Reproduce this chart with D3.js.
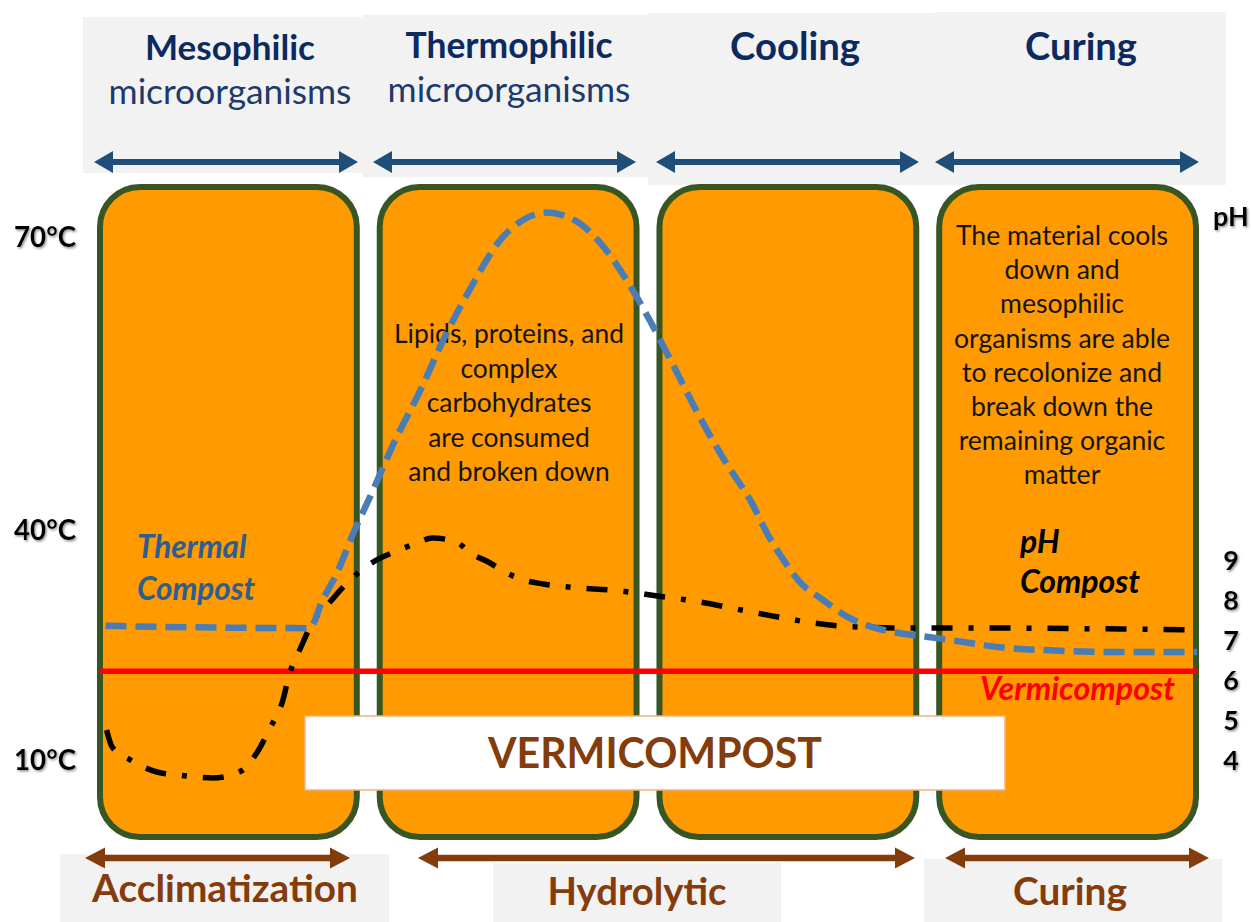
<!DOCTYPE html>
<html><head><meta charset="utf-8">
<script src="https://cdn.jsdelivr.net/npm/d3@7"></script>
<style>body{margin:0;background:#fff}svg{display:block}</style>
</head><body>
<svg id="chart" width="1252" height="922"></svg>
<script>
// ---------------- data ----------------
const phases = ["Mesophilic", "Thermophilic", "Cooling", "Curing"];
const phaseSubtitles = ["microorganisms", "microorganisms", "", ""];
const stages = ["Acclimatization", "Hydrolytic", "Curing"];
const tempTicks = [10, 40, 70];
const tempTickLabels = ["10°C", "40°C", "70°C"];
const phTicks = [4, 5, 6, 7, 8, 9];
const phTickLabels = ["4", "5", "6", "7", "8", "9"];

// process time (0-100 % of the composting process)
const thermalTime = [0.5, 9.1, 19.1, 20.3, 21.6, 23.1, 24.9, 26.7, 29.2, 31.4, 33.7, 36.5, 38.5, 40.7, 43.3, 45.6, 48.0, 50.1, 52.6, 54.7, 57.0, 59.4, 60.8, 62.3, 63.8, 65.9, 68.1, 70.5, 72.7, 75.7, 78.7, 82.0, 86.6, 91.2, 100];
const thermalTemp = [27.5, 27.3, 27.2, 30.9, 34.4, 39.6, 44.1, 48.7, 54.3, 59.7, 64.6, 69.7, 71.7, 72.5, 71.7, 69.4, 65.6, 61.5, 56.1, 51.5, 47.0, 42.8, 39.6, 36.1, 33.2, 30.9, 28.7, 27.3, 26.6, 26.0, 25.4, 24.7, 24.3, 24.1, 24.1];

const phCompostTime = [0.6, 1.1, 2.6, 5.2, 7.9, 10.3, 12.9, 14.3, 15.5, 16.6, 17.3, 18.2, 19.4, 20.9, 22.8, 24.9, 27.3, 28.9, 30.3, 32.5, 33.7, 35.4, 36.9, 38.6, 40.4, 43.8, 47.3, 50.8, 54.7, 57.9, 61.3, 65.0, 68.6, 73.8, 79.3, 91.2, 100];
const phCompostValue = [4.75, 4.33, 4.03, 3.7, 3.6, 3.55, 3.73, 4.18, 4.8, 5.43, 6.18, 6.75, 7.45, 7.93, 8.5, 8.95, 9.25, 9.43, 9.55, 9.45, 9.18, 8.95, 8.7, 8.5, 8.4, 8.3, 8.23, 8.1, 7.95, 7.78, 7.6, 7.43, 7.33, 7.3, 7.3, 7.28, 7.25];

const vermiTime = [0, 100];
const vermiPH = [6.22, 6.22];

const hydrolysisNote = ["Lipids, proteins, and", "complex", "carbohydrates", "are consumed", "and broken down"];
const curingNote = ["The material cools", "down and", "mesophilic", "organisms are able", "to recolonize and", "break down the", "remaining organic", "matter"];

// ---------------- layout ----------------
const FONT = "Lato, 'Open Sans', sans-serif";
const svg = d3.select("#chart");

const defs = svg.append("defs");
const sh = defs.append("filter").attr("id", "shadow").attr("x", "-20%").attr("y", "-20%").attr("width", "150%").attr("height", "150%");
sh.append("feDropShadow").attr("dx", 1.2).attr("dy", 1.5).attr("stdDeviation", 1.2).attr("flood-color", "#777").attr("flood-opacity", 0.8);

const band = d3.scaleBand().domain(phases).range([100, 1196]).paddingInner(0.082).paddingOuter(0);
const x = d3.scaleLinear().domain([0, 100]).range([100, 1197]);
const yT = d3.scaleLinear().domain([10, 40, 70]).range([760, 530, 237]);
const yPH = d3.scaleLinear().domain([4, 9]).range([760, 560]);

function fit(sel, w) {
  const cur = sel.node().getComputedTextLength();
  const fs = parseFloat(sel.attr("font-size"));
  if (cur > 0) sel.attr("font-size", (fs * w / cur).toFixed(2));
  return sel;
}

function doubleArrow(g, x1, x2, y, color, shaft, hl, hh) {
  const p = d3.path();
  p.moveTo(x1, y);
  p.lineTo(x1 + hl, y - hh / 2);
  p.lineTo(x1 + hl, y - shaft / 2);
  p.lineTo(x2 - hl, y - shaft / 2);
  p.lineTo(x2 - hl, y - hh / 2);
  p.lineTo(x2, y);
  p.lineTo(x2 - hl, y + hh / 2);
  p.lineTo(x2 - hl, y + shaft / 2);
  p.lineTo(x1 + hl, y + shaft / 2);
  p.lineTo(x1 + hl, y + hh / 2);
  p.closePath();
  g.append("path").attr("d", p.toString()).attr("fill", color);
}

// header grey panels
const headerPanels = [[83, 17, 363, 173], [363, 15, 650, 177], [648, 13, 935, 185], [935, 12, 1226, 185]];
svg.append("g").selectAll("rect").data(headerPanels).join("rect")
  .attr("x", d => d[0]).attr("y", d => d[1]).attr("width", d => d[2] - d[0]).attr("height", d => d[3] - d[1])
  .attr("fill", "#f2f2f2");

// header titles
const headerCenters = [230, 509, 795, 1081];
const headerWidths = [170, 207, 130, 112];
const hg = svg.append("g").attr("font-family", FONT);
phases.forEach((p, i) => {
  const t = hg.append("text").attr("x", headerCenters[i]).attr("y", i === 1 ? 58 : 60)
    .attr("text-anchor", "middle").attr("font-weight", 700).attr("font-size", 34)
    .attr("fill", "#0b2a5f").text(p);
  fit(t, headerWidths[i]);
  if (phaseSubtitles[i]) {
    const s = hg.append("text").attr("x", headerCenters[i]).attr("y", i === 1 ? 102 : 104)
      .attr("text-anchor", "middle").attr("font-weight", 400).attr("font-size", 34)
      .attr("fill", "#1c3a6b").text(phaseSubtitles[i]);
    fit(s, 243);
  }
});

// top arrows
const ag = svg.append("g");
const topArrows = [[94, 358], [373, 636], [656, 919], [935, 1199]];
topArrows.forEach(a => doubleArrow(ag, a[0], a[1], 162, "#1f4e79", 6, 19, 22));

// phase boxes
svg.append("g").selectAll("rect").data(phases).join("rect")
  .attr("x", d => band(d)).attr("y", 187).attr("width", band.bandwidth()).attr("height", 650)
  .attr("rx", 40).attr("ry", 40)
  .attr("fill", "#ff9a00").attr("stroke", "#375623").attr("stroke-width", 6);

// white VERMICOMPOST panel
svg.append("rect").attr("x", 305).attr("y", 716).attr("width", 700).attr("height", 74)
  .attr("fill", "#ffffff").attr("stroke", "#f4b183").attr("stroke-width", 1.5);
fit(svg.append("text").attr("x", 655).attr("y", 768).attr("text-anchor", "middle")
  .attr("font-family", FONT).attr("font-weight", 700).attr("font-size", 40)
  .attr("fill", "#843c0c").text("VERMICOMPOST"), 334);

// notes inside boxes
const ng = svg.append("g").attr("font-family", FONT).attr("fill", "#141414");
let ref1;
hydrolysisNote.forEach((l, i) => {
  const t = ng.append("text").attr("x", 509).attr("y", 343 + i * 34.6).attr("text-anchor", "middle")
    .attr("font-size", 26).text(l);
  if (i === 0) ref1 = t;
});
{
  const cur = ref1.node().getComputedTextLength();
  ng.selectAll("text").attr("font-size", (26 * 230 / cur).toFixed(2));
}
const ng2 = svg.append("g").attr("font-family", FONT).attr("fill", "#141414");
let ref2;
curingNote.forEach((l, i) => {
  const t = ng2.append("text").attr("x", 1062).attr("y", 245 + i * 34.2).attr("text-anchor", "middle")
    .attr("font-size", 26).text(l);
  if (i === 3) ref2 = t;
});
{
  const cur = ref2.node().getComputedTextLength();
  ng2.selectAll("text").attr("font-size", (26 * 216 / cur).toFixed(2));
}

// series labels
const lg = svg.append("g").attr("font-family", FONT).attr("font-weight", 700).attr("font-style", "italic");
const th1 = lg.append("text").attr("x", 137).attr("y", 558).attr("font-size", 26).attr("fill", "#2e5d8f").text("Thermal");
const th2 = lg.append("text").attr("x", 137).attr("y", 600).attr("font-size", 26).attr("fill", "#2e5d8f").text("Compost");
fit(th2, 118); th1.attr("font-size", th2.attr("font-size"));
const pc1 = lg.append("text").attr("x", 1020).attr("y", 553).attr("font-size", 26).attr("fill", "#000").text("pH");
const pc2 = lg.append("text").attr("x", 1020).attr("y", 593).attr("font-size", 26).attr("fill", "#000").text("Compost");
fit(pc2, 120); pc1.attr("font-size", pc2.attr("font-size"));
fit(lg.append("text").attr("x", 980).attr("y", 700).attr("font-size", 24).attr("fill", "#ff0000").text("Vermicompost"), 195);

// lines
const lineV = d3.line().x((d, i) => x(vermiTime[i])).y(d => yPH(d));
svg.append("path").datum(vermiPH).attr("d", lineV)
  .attr("fill", "none").attr("stroke", "#ff0000").attr("stroke-width", 5.5);

const linePH = d3.line().x((d, i) => x(phCompostTime[i])).y(d => yPH(d)).curve(d3.curveMonotoneX);
svg.append("path").datum(phCompostValue).attr("d", linePH)
  .attr("fill", "none").attr("stroke", "#000").attr("stroke-width", 5.5)
  .attr("stroke-dasharray", "21,16,5,16");

const lineT = d3.line().x((d, i) => x(thermalTime[i])).y(d => yT(d)).curve(d3.curveMonotoneX);
svg.append("path").datum(thermalTemp).attr("d", lineT)
  .attr("fill", "none").attr("stroke", "#4a7db5").attr("stroke-width", 6.5)
  .attr("stroke-dasharray", "21,9");

// axis labels (temperature left, pH right)
const axg = svg.append("g").attr("font-family", FONT).attr("font-weight", 700).attr("fill", "#000")
  .attr("filter", "url(#shadow)");
const tl = axg.selectAll("text.t").data(tempTicks).join("text").attr("class", "t")
  .attr("x", 14).attr("y", d => yT(d)).attr("dy", "0.36em").attr("font-size", 28)
  .text((d, i) => tempTickLabels[i]);
{
  const n = tl.filter(d => d === 70);
  const cur = n.node().getComputedTextLength();
  tl.attr("font-size", (28 * 62 / cur).toFixed(2));
}
axg.selectAll("text.p").data(phTicks).join("text").attr("class", "p")
  .attr("x", 1231).attr("y", d => yPH(d)).attr("dy", "0.36em").attr("text-anchor", "middle")
  .attr("font-size", 27).text((d, i) => phTickLabels[i]);
axg.append("text").attr("x", 1213).attr("y", 226).attr("font-size", 27).text("pH");

// bottom stage panels
const bottomPanels = [[60, 854, 389, 922], [493, 863, 781, 922], [924, 859, 1222, 922]];
svg.append("g").selectAll("rect").data(bottomPanels).join("rect")
  .attr("x", d => d[0]).attr("y", d => d[1]).attr("width", d => d[2] - d[0]).attr("height", d => d[3] - d[1])
  .attr("fill", "#f2f2f2");

const bg = svg.append("g");
const bottomArrows = [[85, 350], [418, 915], [945, 1209]];
bottomArrows.forEach(a => doubleArrow(bg, a[0], a[1], 858, "#843c0c", 6.5, 20, 21));

const stageCenters = [225, 637, 1070];
const stageWidths = [266, 179, 114];
const stageBase = [902, 905, 905];
const sg = svg.append("g").attr("font-family", FONT).attr("font-weight", 700).attr("fill", "#843c0c");
stages.forEach((s, i) => {
  fit(sg.append("text").attr("x", stageCenters[i]).attr("y", stageBase[i]).attr("text-anchor", "middle")
    .attr("font-size", 36).text(s), stageWidths[i]);
});
</script>
</body></html>
